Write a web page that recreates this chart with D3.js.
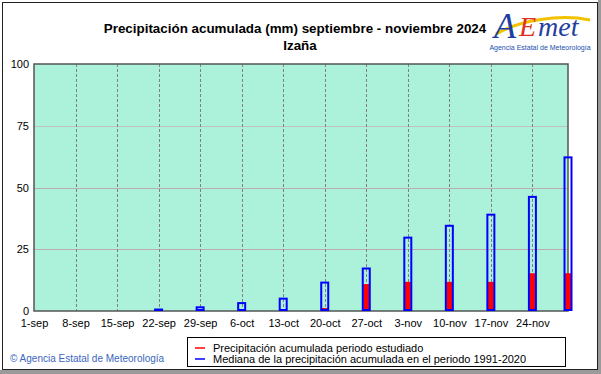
<!DOCTYPE html>
<html><head><meta charset="utf-8">
<script src="https://cdn.jsdelivr.net/npm/d3@7"></script>
<style>body{margin:0;background:#fff}svg{display:block;font-family:Arial,"Liberation Sans",sans-serif}</style>
</head><body><svg id="c" width="601" height="374"></svg>
<script>
const tickLabels = ["1-sep","8-sep","15-sep","22-sep","29-sep","6-oct","13-oct","20-oct","27-oct","3-nov","10-nov","17-nov","24-nov"];
const tickDates = ["2024-09-01","2024-09-08","2024-09-15","2024-09-22","2024-09-29","2024-10-06","2024-10-13","2024-10-20","2024-10-27","2024-11-03","2024-11-10","2024-11-17","2024-11-24"];
const barDates = ["2024-09-01","2024-09-08","2024-09-15","2024-09-22","2024-09-29","2024-10-06","2024-10-13","2024-10-20","2024-10-27","2024-11-03","2024-11-10","2024-11-17","2024-11-24","2024-11-30"];
const medianValues = [0,0,0,0.6,1.5,3.2,5.0,11.5,17.2,29.7,34.5,39.0,46.2,62.2];
const observedValues = [0,0,0,0,0,0,0,1.2,10.9,11.8,11.8,11.8,15.3,15.3];
const yTicks = [0,25,50,75,100];

const parse = d3.utcParse("%Y-%m-%d");
const svg = d3.select("#c");
const L=34, R=568, T=64, B=311;
const x = d3.scaleUtc().domain([parse("2024-09-01"), parse("2024-11-30")]).range([L,R]);
const y = d3.scaleLinear().domain([0,100]).range([B,T]);

// outer frame
svg.append("rect").attr("x",0).attr("y",0).attr("width",601).attr("height",374).attr("fill","#fff");
svg.append("rect").attr("x",0).attr("y",370).attr("width",601).attr("height",4).attr("fill","#9a9a9a");
svg.append("rect").attr("x",598).attr("y",0).attr("width",3).attr("height",374).attr("fill","#9a9a9a");
svg.append("rect").attr("x",2.5).attr("y",2.5).attr("width",595).attr("height",367).attr("fill","none").attr("stroke","#222").attr("stroke-width",1);

// plot background
svg.append("rect").attr("x",L).attr("y",T).attr("width",R-L).attr("height",B-T).attr("fill","#acf2da");

// horizontal grid
svg.append("g").selectAll("line").data(yTicks.filter(d=>d>0&&d<100)).join("line")
  .attr("x1",L).attr("x2",R).attr("y1",d=>Math.round(y(d))+0.5).attr("y2",d=>Math.round(y(d))+0.5)
  .attr("stroke",d=>d===75?"#c0c0c0":"#bcaab4").attr("stroke-width",1).attr("shape-rendering","crispEdges");
// vertical dashed grid
svg.append("g").selectAll("line").data(tickDates.slice(1)).join("line")
  .attr("x1",d=>Math.round(x(parse(d)))+0.5).attr("x2",d=>Math.round(x(parse(d)))+0.5)
  .attr("y1",T).attr("y2",B).attr("stroke","#808080").attr("stroke-dasharray","3,2").attr("stroke-width",1)
  .attr("shape-rendering","crispEdges");

// plot border
svg.append("rect").attr("x",L).attr("y",T).attr("width",R-L).attr("height",B-T)
  .attr("fill","none").attr("stroke","#555").attr("stroke-width",1.5);

// y axis
const yAxis = d3.axisLeft(y).tickValues(yTicks).tickSize(0).tickPadding(5);
const gy = svg.append("g").attr("transform",`translate(${L},0)`).call(yAxis);
gy.select(".domain").remove();
gy.selectAll("text").attr("font-size",11).attr("font-family","Arial, Liberation Sans").attr("fill","#000");

// x axis
const xAxis = d3.axisBottom(x).tickValues(tickDates.map(parse)).tickFormat((d,i)=>tickLabels[i]).tickSize(0).tickPadding(8);
const gx = svg.append("g").attr("transform",`translate(0,${B})`).call(xAxis);
gx.select(".domain").remove();
gx.selectAll("text").attr("font-size",11).attr("font-family","Arial, Liberation Sans").attr("fill","#000");

// bars
const bars = barDates.map((d,i)=>({date:parse(d), med:medianValues[i], obs:observedValues[i]}));
svg.append("g").selectAll("rect").data(bars.filter(d=>d.obs>0)).join("rect")
  .attr("x",d=>x(d.date)-3).attr("width",6)
  .attr("y",d=>y(d.obs)).attr("height",d=>B-y(d.obs)).attr("fill","#ff0000");
svg.append("g").selectAll("rect").data(bars.filter(d=>d.med>0)).join("rect")
  .attr("x",d=>x(d.date)-3.5).attr("width",7)
  .attr("y",d=>y(d.med)).attr("height",d=>Math.max(0.5,B-y(d.med)-1))
  .attr("fill","none").attr("stroke","#0000ff").attr("stroke-width",2);

// title
svg.append("text").attr("x",295).attr("y",33).attr("text-anchor","middle").attr("font-size",13.4).attr("font-weight","bold")
  .text("Precipitación acumulada (mm) septiembre  - noviembre 2024");
svg.append("text").attr("x",300).attr("y",50).attr("text-anchor","middle").attr("font-size",13.4).attr("font-weight","bold").text("Izaña");

// logo
const lg = svg.append("g");
lg.append("path").attr("d","M496,34 C520,20 560,14 590,20").attr("fill","none").attr("stroke","#f2c200").attr("stroke-width",3);
lg.append("text").attr("x",494).attr("y",38).attr("font-size",36).attr("font-style","italic").attr("fill","#1f3fa0").attr("font-family","Liberation Serif, serif").text("A");
lg.append("text").attr("x",519).attr("y",36).attr("font-size",28).attr("font-style","italic").attr("fill","#e03020").attr("font-family","Liberation Serif, serif").text("E");
lg.append("text").attr("x",538).attr("y",36).attr("font-size",28).attr("font-style","italic").attr("fill","#1f3fa0").attr("font-family","Liberation Serif, serif").text("met");
lg.append("text").attr("x",540).attr("y",50).attr("text-anchor","middle").attr("font-size",7).attr("fill","#2050b0").text("Agencia Estatal de Meteorología");

// copyright
svg.append("text").attr("x",10).attr("y",362).attr("font-size",10).attr("fill","#3a66c0").text("© Agencia Estatal de Meteorología");

// legend
svg.append("rect").attr("x",187.5).attr("y",337.5).attr("width",378).attr("height",29).attr("fill","#fff").attr("stroke","#000");
const legend = [{c:"#ff0000",t:"Precipitación acumulada periodo estudiado"},{c:"#0000ff",t:"Mediana de la precipitación acumulada en el periodo 1991-2020"}];
legend.forEach((d,i)=>{
  const yy = 348 + i*11;
  svg.append("line").attr("x1",195).attr("x2",205).attr("y1",yy).attr("y2",yy).attr("stroke",d.c).attr("stroke-width",1.5);
  svg.append("text").attr("x",213).attr("y",yy+4).attr("font-size",11).text(d.t);
});
</script></body></html>
